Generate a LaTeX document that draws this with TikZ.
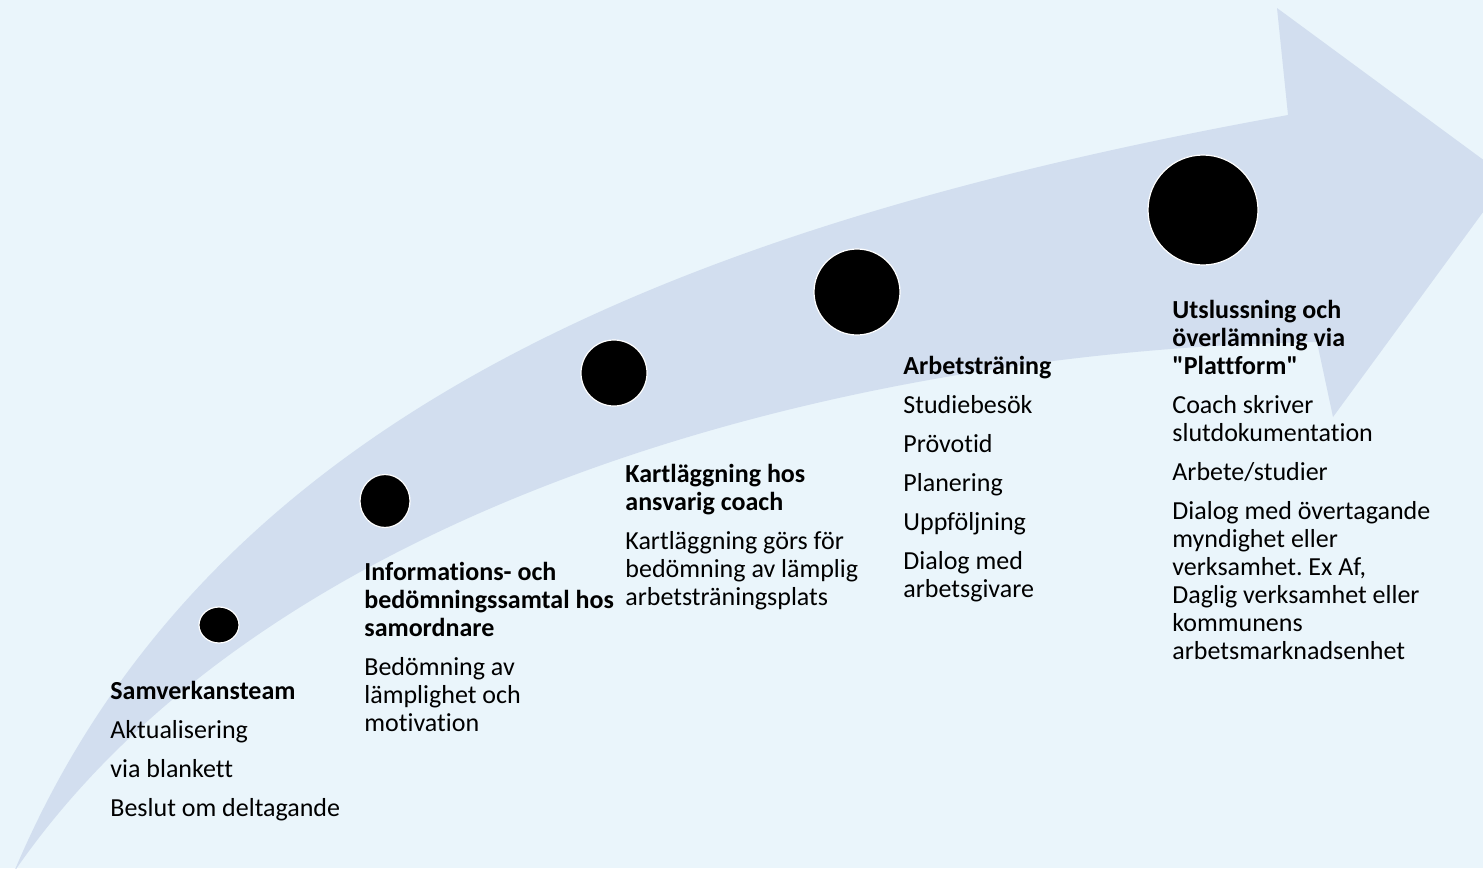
\documentclass[tikz,border=0pt]{standalone}
\usepackage{fontspec}
\setmainfont{Carlito}[Ligatures={TeXOff,CommonOff}]
\usetikzlibrary{shapes.geometric}
\definecolor{fond}{HTML}{EAF5FB}
\definecolor{fleche}{HTML}{D2DEEF}
\frenchspacing
\begin{document}
\begin{tikzpicture}[x=0.5pt,y=-0.5pt]
%styles
\tikzstyle{pointEt}=[ellipse, fill=black, draw=white, line width=0.6pt, inner sep=0pt]
\tikzstyle{textBloc}=[anchor=base west, inner sep=0pt, text width=150pt, align=left,
  font=\fontsize{13}{14}\selectfont, execute at begin node={\spaceskip=0pt\xspaceskip=0pt}]
%fond
\fill[fond] (0,0) rectangle (1483,868);
\useasboundingbox (0,0) rectangle (1483,868);
%fleche
\begin{scope}
\clip (0,0) rectangle (1483,868);
\fill[fleche] (14,872) .. controls (200,430) and (650,230) .. (1288,115) -- (1277,8) -- (1508,178)
  -- (1333,417) -- (1317,342) .. controls (850,350) and (270,500) .. (14,872) -- cycle;
\end{scope}
%nodes
\node[pointEt, minimum width=20pt, minimum height=18pt] (e1) at (219,625) {};
\node[pointEt, minimum width=25pt, minimum height=26.5pt] (e2) at (385,501) {};
\node[pointEt, minimum size=33pt] (e3) at (614,373) {};
\node[pointEt, minimum size=43pt] (e4) at (857,292) {};
\node[pointEt, minimum size=55pt] (e5) at (1203,210) {};
%text
\node[textBloc] (t1) at (110,699) {{\bfseries Samverkansteam}\\[5.5pt]
  Aktualisering\\[5.5pt] via blankett\\[5.5pt] Beslut om deltagande};
\node[textBloc] (t2) at (364,580) {{\bfseries Informations- och\\ bedömningssamtal hos\\ samordnare}\\[5.5pt]
  Bedömning av\\ lämplighet och\\ motivation};
\node[textBloc] (t3) at (625,482) {{\bfseries Kartläggning hos\\ ansvarig coach}\\[5.5pt]
  Kartläggning görs för\\ bedömning av lämplig\\ arbetsträningsplats};
\node[textBloc] (t4) at (903,374) {{\bfseries Arbetsträning}\\[5.5pt]
  Studiebesök\\[5.5pt] Prövotid\\[5.5pt] Planering\\[5.5pt] Uppföljning\\[5.5pt] Dialog med\\ arbetsgivare};
\node[textBloc] (t5) at (1172,318) {{\bfseries Utslussning och\\ överlämning via\\ "Plattform"}\\[5.5pt]
  Coach skriver\\ slutdokumentation\\[5.5pt] Arbete/studier\\[5.5pt] Dialog med övertagande\\
  myndighet eller\\ verksamhet. Ex Af,\\ Daglig verksamhet eller\\ kommunens\\ arbetsmarknadsenhet};
\end{tikzpicture}
\end{document}
